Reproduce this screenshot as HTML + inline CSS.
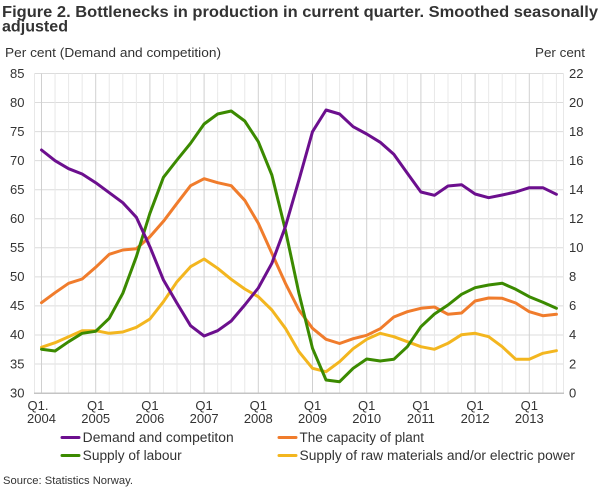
<!DOCTYPE html>
<html><head><meta charset="utf-8"><style>
html,body{margin:0;padding:0;background:#fff;}
svg{display:block;}
text{font-family:"Liberation Sans",sans-serif;fill:#333;}
</style></head><body>
<svg width="610" height="488" viewBox="0 0 610 488" xmlns="http://www.w3.org/2000/svg">
<text x="2" y="17" font-size="15.5" font-weight="bold" fill="#333" textLength="596" lengthAdjust="spacingAndGlyphs">Figure 2. Bottlenecks in production in current quarter. Smoothed seasonally</text>
<text x="2" y="31.5" font-size="15.5" font-weight="bold" fill="#333" textLength="66" lengthAdjust="spacingAndGlyphs">adjusted</text>
<text x="5" y="57" font-size="13" textLength="216" lengthAdjust="spacingAndGlyphs">Per cent (Demand and competition)</text>
<text x="535" y="57" font-size="13" textLength="50" lengthAdjust="spacingAndGlyphs">Per cent</text>

<!-- horizontal grid -->
<g stroke="#dcdcdc" stroke-width="1">
<line x1="34.5" x2="563.5" y1="73.5" y2="73.5"/>
<line x1="34.5" x2="563.5" y1="102.55" y2="102.55"/>
<line x1="34.5" x2="563.5" y1="131.6" y2="131.6"/>
<line x1="34.5" x2="563.5" y1="160.65" y2="160.65"/>
<line x1="34.5" x2="563.5" y1="189.7" y2="189.7"/>
<line x1="34.5" x2="563.5" y1="218.75" y2="218.75"/>
<line x1="34.5" x2="563.5" y1="247.8" y2="247.8"/>
<line x1="34.5" x2="563.5" y1="276.85" y2="276.85"/>
<line x1="34.5" x2="563.5" y1="305.9" y2="305.9"/>
<line x1="34.5" x2="563.5" y1="334.95" y2="334.95"/>
<line x1="34.5" x2="563.5" y1="364" y2="364"/>
</g>
<!-- minor vertical grid -->
<g stroke="#e8e8e8" stroke-width="1">
<line x1="34.5" x2="34.5" y1="73.5" y2="393"/>
<line x1="563.5" x2="563.5" y1="73.5" y2="393"/>
<line x1="55.05" x2="55.05" y1="73.5" y2="393"/>
<line x1="68.6" x2="68.6" y1="73.5" y2="393"/>
<line x1="82.15" x2="82.15" y1="73.5" y2="393"/>
<line x1="109.25" x2="109.25" y1="73.5" y2="393"/>
<line x1="122.8" x2="122.8" y1="73.5" y2="393"/>
<line x1="136.35" x2="136.35" y1="73.5" y2="393"/>
<line x1="163.45" x2="163.45" y1="73.5" y2="393"/>
<line x1="177" x2="177" y1="73.5" y2="393"/>
<line x1="190.55" x2="190.55" y1="73.5" y2="393"/>
<line x1="217.65" x2="217.65" y1="73.5" y2="393"/>
<line x1="231.2" x2="231.2" y1="73.5" y2="393"/>
<line x1="244.75" x2="244.75" y1="73.5" y2="393"/>
<line x1="271.85" x2="271.85" y1="73.5" y2="393"/>
<line x1="285.4" x2="285.4" y1="73.5" y2="393"/>
<line x1="298.95" x2="298.95" y1="73.5" y2="393"/>
<line x1="326.05" x2="326.05" y1="73.5" y2="393"/>
<line x1="339.6" x2="339.6" y1="73.5" y2="393"/>
<line x1="353.15" x2="353.15" y1="73.5" y2="393"/>
<line x1="380.25" x2="380.25" y1="73.5" y2="393"/>
<line x1="393.8" x2="393.8" y1="73.5" y2="393"/>
<line x1="407.35" x2="407.35" y1="73.5" y2="393"/>
<line x1="434.45" x2="434.45" y1="73.5" y2="393"/>
<line x1="448" x2="448" y1="73.5" y2="393"/>
<line x1="461.55" x2="461.55" y1="73.5" y2="393"/>
<line x1="488.65" x2="488.65" y1="73.5" y2="393"/>
<line x1="502.2" x2="502.2" y1="73.5" y2="393"/>
<line x1="515.75" x2="515.75" y1="73.5" y2="393"/>
<line x1="542.85" x2="542.85" y1="73.5" y2="393"/>
<line x1="556.4" x2="556.4" y1="73.5" y2="393"/>
</g>
<!-- major vertical grid -->
<g stroke="#d0d0d0" stroke-width="1">
<line x1="41.5" x2="41.5" y1="73.5" y2="393"/>
<line x1="95.7" x2="95.7" y1="73.5" y2="393"/>
<line x1="149.9" x2="149.9" y1="73.5" y2="393"/>
<line x1="204.1" x2="204.1" y1="73.5" y2="393"/>
<line x1="258.3" x2="258.3" y1="73.5" y2="393"/>
<line x1="312.5" x2="312.5" y1="73.5" y2="393"/>
<line x1="366.7" x2="366.7" y1="73.5" y2="393"/>
<line x1="420.9" x2="420.9" y1="73.5" y2="393"/>
<line x1="475.1" x2="475.1" y1="73.5" y2="393"/>
<line x1="529.3" x2="529.3" y1="73.5" y2="393"/>
</g>
<line x1="34" x2="564" y1="393.3" y2="393.3" stroke="#c4c4c4" stroke-width="1.5"/>

<!-- left axis labels -->
<g font-size="13" text-anchor="end">
<text x="24.5" y="78">85</text>
<text x="24.5" y="107">80</text>
<text x="24.5" y="136">75</text>
<text x="24.5" y="165">70</text>
<text x="24.5" y="194">65</text>
<text x="24.5" y="223">60</text>
<text x="24.5" y="252">55</text>
<text x="24.5" y="281">50</text>
<text x="24.5" y="310">45</text>
<text x="24.5" y="339">40</text>
<text x="24.5" y="368.5">35</text>
<text x="24.5" y="397.5">30</text>
</g>
<!-- right axis labels -->
<g font-size="13" text-anchor="start">
<text x="569" y="78">22</text>
<text x="569" y="107">20</text>
<text x="569" y="136">18</text>
<text x="569" y="165">16</text>
<text x="569" y="194">14</text>
<text x="569" y="223">12</text>
<text x="569" y="252">10</text>
<text x="569" y="281">8</text>
<text x="569" y="310">6</text>
<text x="569" y="339">4</text>
<text x="569" y="368.5">2</text>
<text x="569" y="397.5">0</text>
</g>
<!-- x labels -->
<g font-size="13" text-anchor="middle">
<text x="38" y="410">Q1.</text><text x="41.5" y="423">2004</text>
<text x="95.7" y="410">Q1</text><text x="95.7" y="423">2005</text>
<text x="149.9" y="410">Q1</text><text x="149.9" y="423">2006</text>
<text x="204.1" y="410">Q1</text><text x="204.1" y="423">2007</text>
<text x="258.3" y="410">Q1</text><text x="258.3" y="423">2008</text>
<text x="312.5" y="410">Q1</text><text x="312.5" y="423">2009</text>
<text x="366.7" y="410">Q1</text><text x="366.7" y="423">2010</text>
<text x="420.9" y="410">Q1</text><text x="420.9" y="423">2011</text>
<text x="475.1" y="410">Q1</text><text x="475.1" y="423">2012</text>
<text x="529.3" y="410">Q1</text><text x="529.3" y="423">2013</text>
</g>

<!-- series -->
<g fill="none" stroke-width="3" stroke-linejoin="round" stroke-linecap="round">
<polyline stroke="#F3B61F" points="41.5,347.3 55.05,342.7 68.6,336.7 82.15,330.7 95.7,330.7 109.25,333.3 122.8,332 136.35,327.3 149.9,319 163.45,301.7 177,281.7 190.55,266.7 204.1,259 217.65,268.3 231.2,279.3 244.75,289 258.3,296.7 271.85,310 285.4,328.3 298.95,351.7 312.5,368.3 326.05,371.7 339.6,361.7 353.15,348.7 366.7,339.3 380.25,333.3 393.8,336.7 407.35,341.7 420.9,346.7 434.45,349.3 448,343.3 461.55,334.7 475.1,333.3 488.65,336.7 502.2,346.7 515.75,359.3 529.3,359.3 542.85,353.3 556.4,350.7"/>
<polyline stroke="#F07C2C" points="41.5,302.7 55.05,292.7 68.6,283.3 82.15,279 95.7,267.3 109.25,254.3 122.8,250 136.35,248.7 149.9,236.7 163.45,221.3 177,203.3 190.55,185.7 204.1,178.7 217.65,182.7 231.2,185.7 244.75,200.3 258.3,223.3 271.85,253.3 285.4,283.3 298.95,310 312.5,328.3 326.05,339.3 339.6,343.5 353.15,338.7 366.7,335.3 380.25,328.7 393.8,317 407.35,311.7 420.9,308.3 434.45,307 448,314.3 461.55,313 475.1,301 488.65,298 502.2,298.3 515.75,303 529.3,311.7 542.85,315.7 556.4,314.3"/>
<polyline stroke="#3B8A00" points="41.5,349.3 55.05,351 68.6,341.7 82.15,333.3 95.7,331.3 109.25,318.3 122.8,293.3 136.35,256.7 149.9,213.3 163.45,177.3 177,160 190.55,143.3 204.1,124 217.65,114 231.2,111 244.75,121 258.3,141.7 271.85,175 285.4,230 298.95,293.3 312.5,348.3 326.05,380 339.6,381.7 353.15,368.3 366.7,359 380.25,361 393.8,359.3 407.35,346.7 420.9,326.7 434.45,314 448,305 461.55,294.3 475.1,287.7 488.65,285 502.2,283.3 515.75,289.3 529.3,296.7 542.85,302.3 556.4,308.3"/>
<polyline stroke="#6C0F8E" points="41.5,150 55.05,160.7 68.6,168.7 82.15,174 95.7,182.7 109.25,192.7 122.8,202.7 136.35,217.3 149.9,246.7 163.45,280 177,303.3 190.55,325.7 204.1,336 217.65,330.7 231.2,321 244.75,305 258.3,288 271.85,263.3 285.4,226.7 298.95,180 312.5,131.7 326.05,110 339.6,114 353.15,126.7 366.7,134 380.25,142.3 393.8,154.3 407.35,173.3 420.9,192 434.45,195.3 448,186 461.55,184.7 475.1,194 488.65,197.7 502.2,195 515.75,192 529.3,187.7 542.85,187.7 556.4,194.3"/>
</g>

<!-- legend -->
<g stroke-width="3" stroke-linecap="round">
<line x1="62" x2="79" y1="437.5" y2="437.5" stroke="#6C0F8E"/>
<line x1="62" x2="79" y1="455.5" y2="455.5" stroke="#3B8A00"/>
<line x1="279" x2="296" y1="437.5" y2="437.5" stroke="#F07C2C"/>
<line x1="279" x2="296" y1="455.5" y2="455.5" stroke="#F3B61F"/>
</g>
<g font-size="13.5">
<text x="82.7" y="442" textLength="151" lengthAdjust="spacingAndGlyphs">Demand and competiton</text>
<text x="82.7" y="460" textLength="99" lengthAdjust="spacingAndGlyphs">Supply of labour</text>
<text x="299.5" y="442" textLength="124.5" lengthAdjust="spacingAndGlyphs">The capacity of plant</text>
<text x="299.5" y="460" textLength="275.5" lengthAdjust="spacingAndGlyphs">Supply of raw materials and/or electric power</text>
</g>
<text x="3" y="484" font-size="11" textLength="130" lengthAdjust="spacingAndGlyphs">Source: Statistics Norway.</text>
</svg>
</body></html>
